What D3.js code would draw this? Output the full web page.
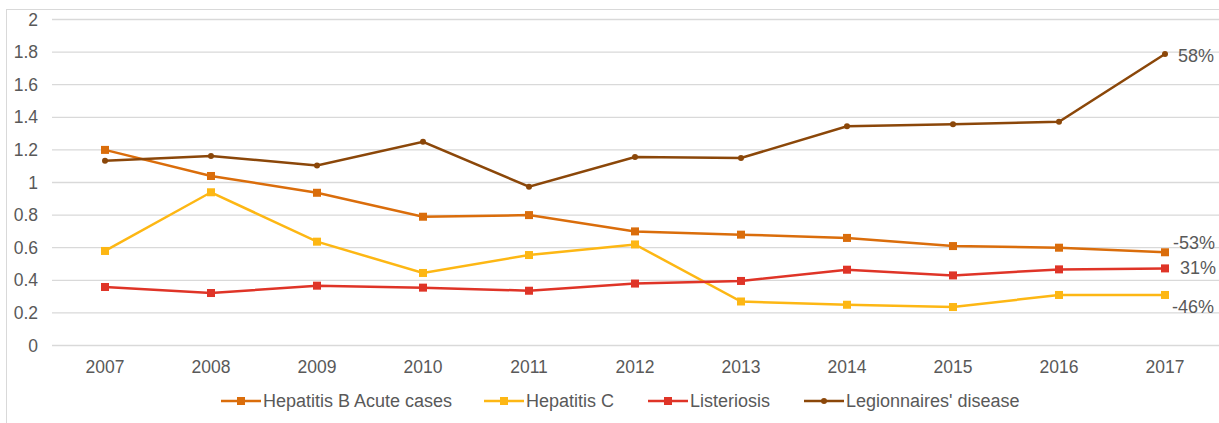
<!DOCTYPE html>
<html>
<head>
<meta charset="utf-8">
<script src="https://cdn.jsdelivr.net/npm/d3@7"></script>
<style>
  body { margin: 0; background: #fff; }
  text { font-family: "Liberation Sans", Arial, sans-serif; fill: #595959; }
</style>
</head>
<body>
<div id="chart"></div>
<script>
var years = ["2007", "2008", "2009", "2010", "2011", "2012", "2013", "2014", "2015", "2016", "2017"];
var hepB = [1.20, 1.04, 0.937, 0.79, 0.80, 0.70, 0.68, 0.66, 0.61, 0.60, 0.572];
var hepC = [0.58, 0.94, 0.637, 0.445, 0.555, 0.62, 0.27, 0.25, 0.236, 0.31, 0.31];
var listeriosis = [0.359, 0.322, 0.367, 0.355, 0.336, 0.38, 0.396, 0.465, 0.43, 0.467, 0.473];
var legionnaires = [1.134, 1.163, 1.105, 1.25, 0.974, 1.156, 1.15, 1.345, 1.357, 1.373, 1.788];
var yTicks = [0, 0.2, 0.4, 0.6, 0.8, 1, 1.2, 1.4, 1.6, 1.8, 2];

var series = [
    { name: "Hepatitis B Acute cases", values: hepB, color: "#DA6D0B", marker: "square", change: "-53%" },
    { name: "Hepatitis C", values: hepC, color: "#FDB714", marker: "square", change: "-46%" },
    { name: "Listeriosis", values: listeriosis, color: "#DF3427", marker: "square", change: "31%" },
    { name: "Legionnaires' disease", values: legionnaires, color: "#8B4709", marker: "circle", change: "58%" }
];

var width = 1219, height = 423;

var svg = d3.select("#chart").append("svg")
    .attr("width", width)
    .attr("height", height);

// outer frame
svg.append("rect")
    .attr("x", 6.5).attr("y", 9.5)
    .attr("width", width + 10).attr("height", height + 10)
    .attr("fill", "none")
    .attr("stroke", "#d9d9d9");

// Scales
var x = d3.scaleBand()
    .domain(years)
    .range([52, 1218]);

var y = d3.scaleLinear()
    .domain([0, 2])
    .range([345.5, 19.5]);

var cx = function(i) { return x(years[i]) + x.bandwidth() / 2; };

// Gridlines
svg.append("g").selectAll("line")
    .data(yTicks)
    .enter().append("line")
    .attr("x1", 52).attr("x2", width)
    .attr("y1", function(d) { return y(d); })
    .attr("y2", function(d) { return y(d); })
    .attr("stroke", "#d9d9d9")
    .attr("stroke-width", 1.3);

// Y labels
svg.append("g").selectAll("text")
    .data(yTicks)
    .enter().append("text")
    .attr("x", 38)
    .attr("y", function(d) { return y(d) + 6; })
    .attr("text-anchor", "end")
    .attr("font-size", 17.5)
    .text(function(d) { return d3.format("~g")(d); });

// X labels
svg.append("g").selectAll("text")
    .data(years)
    .enter().append("text")
    .attr("x", function(d) { return x(d) + x.bandwidth() / 2; })
    .attr("y", 373)
    .attr("text-anchor", "middle")
    .attr("font-size", 17.5)
    .text(function(d) { return d; });

var line = d3.line()
    .x(function(d, i) { return cx(i); })
    .y(function(d) { return y(d); });

function drawMarker(g, s, px, py) {
    if (s.marker == "square") {
        g.append("rect")
            .attr("x", px - 4).attr("y", py - 4)
            .attr("width", 8).attr("height", 8)
            .attr("fill", s.color);
    } else {
        g.append("circle")
            .attr("cx", px).attr("cy", py)
            .attr("r", 3)
            .attr("fill", s.color);
    }
}

series.forEach(function(s) {
    var g = svg.append("g");
    g.append("path")
        .datum(s.values)
        .attr("d", line)
        .attr("fill", "none")
        .attr("stroke", s.color)
        .attr("stroke-width", 2.5);
    s.values.forEach(function(v, i) {
        drawMarker(g, s, cx(i), y(v));
    });
});

// change labels next to the 2017 point, nudged like the original
var labelNudge = { "-53%": [8, -3], "-46%": [7, 18], "31%": [15, 6], "58%": [13, 8] };
series.forEach(function(s) {
    var last = s.values[s.values.length - 1];
    var n = labelNudge[s.change];
    svg.append("text")
        .attr("x", cx(years.length - 1) + n[0])
        .attr("y", y(last) + n[1])
        .attr("font-size", 18)
        .text(s.change);
});

// Legend
var legendX = [221, 484, 648, 804];
series.forEach(function(s, i) {
    var g = svg.append("g").attr("transform", "translate(" + legendX[i] + ",401)");
    g.append("line")
        .attr("x1", 0).attr("x2", 40)
        .attr("y1", 0).attr("y2", 0)
        .attr("stroke", s.color)
        .attr("stroke-width", 2.5);
    drawMarker(g, s, 20, 0);
    g.append("text")
        .attr("x", 42)
        .attr("y", 6)
        .attr("font-size", 18)
        .text(s.name);
});
</script>
</body>
</html>
